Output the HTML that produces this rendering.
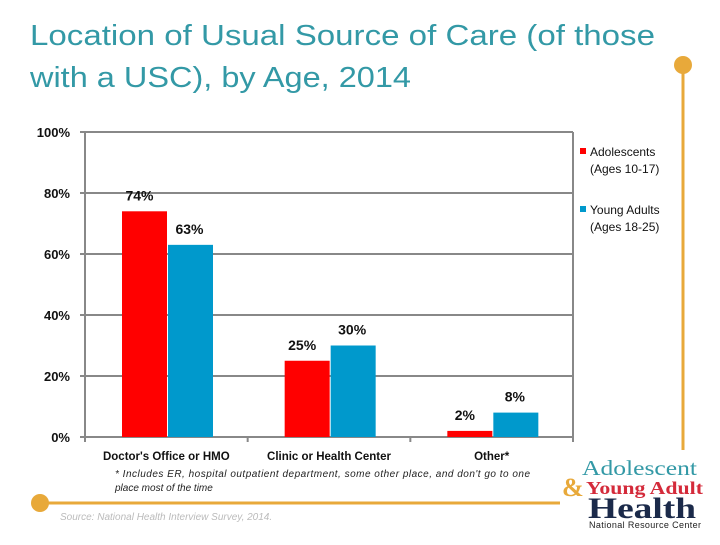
<!DOCTYPE html>
<html><head><meta charset="utf-8"><style>
body{margin:0;width:720px;height:540px;background:#fff;overflow:hidden;font-family:"Liberation Sans",sans-serif;}
</style></head><body>
<svg width="720" height="540" xmlns="http://www.w3.org/2000/svg">
<text x="30" y="45" font-size="29" fill="#3399a6" textLength="625" lengthAdjust="spacingAndGlyphs">Location of Usual Source of Care (of those</text>
<text x="30" y="87" font-size="29" fill="#3399a6" textLength="381" lengthAdjust="spacingAndGlyphs">with a USC), by Age, 2014</text>
<line x1="683" y1="65" x2="683" y2="450" stroke="#e8a93a" stroke-width="3"/>
<circle cx="683" cy="65" r="9" fill="#e8a93a"/>
<line x1="40" y1="503" x2="560" y2="503" stroke="#e8a93a" stroke-width="3"/>
<circle cx="40" cy="503" r="9" fill="#e8a93a"/>
<g id="plot"></g>
<text x="115" y="477" font-size="10" font-style="italic" fill="#222" textLength="415">* Includes ER,  hospital outpatient department, some other place, and don't go to one</text>
<text x="115" y="491" font-size="10" font-style="italic" fill="#222">place  most of the time</text>
<text x="60" y="520" font-size="10" font-style="italic" fill="#bbb">Source: National Health Interview Survey, 2014.</text>
<g>
<text x="582" y="475" font-size="21" fill="#3399a6" font-family="Liberation Serif,serif" textLength="115" lengthAdjust="spacingAndGlyphs">Adolescent</text>
<text x="562" y="496" font-size="26" fill="#e8a93a" font-family="Liberation Serif,serif" font-weight="bold">&amp;</text>
<text x="586" y="494" font-size="18" fill="#d42a3a" font-family="Liberation Serif,serif" font-weight="bold" textLength="117" lengthAdjust="spacingAndGlyphs">Young Adult</text>
<text x="588" y="518" font-size="30" fill="#1b2a4a" font-family="Liberation Serif,serif" font-weight="bold" textLength="108" lengthAdjust="spacingAndGlyphs">Health</text>
<text x="589" y="528" font-size="9" fill="#222" textLength="112">National Resource Center</text>
</g>
</svg>
<script>
const categories=["Doctor's Office or HMO","Clinic or Health Center","Other*"];
const adolescents=[74,25,2];
const youngAdults=[63,30,8];
const yTicks=[0,20,40,60,80,100];
const NS="http://www.w3.org/2000/svg";
const g=document.getElementById('plot');
const X0=85,X1=573,Y0=437,Y1=132;
const y=v=>Y0-(v/100)*(Y0-Y1);
const gw=(X1-X0)/categories.length;
function mk(t,a,txt){const e=document.createElementNS(NS,t);for(const k in a)e.setAttribute(k,a[k]);if(txt!==undefined)e.textContent=txt;g.appendChild(e);return e;}
yTicks.forEach(v=>{
 const l=mk('line',{x1:X0-5,x2:X1,y1:y(v),y2:y(v),stroke:'#888','stroke-width':2});
 
 
 const t=mk('text',{x:70,y:y(v)+5,'font-size':13,'font-weight':'bold','text-anchor':'end',fill:'#111'},v+'%');
 
 
});
const ax=mk('line',{x1:X0,x2:X0,y1:Y1,y2:Y0+5,stroke:'#888','stroke-width':2});


const rx=mk('line',{x1:X1,x2:X1,y1:Y1,y2:Y0+5,stroke:'#888','stroke-width':2});


for(let i=1;i<categories.length;i++){const tk=mk('line',{x1:X0+gw*i,x2:X0+gw*i,y1:Y0,y2:Y0+5,stroke:'#888','stroke-width':2});
 
 }
const bw=45;
categories.forEach((c,i)=>{
 const gx=X0+gw*i+37;
 const r=mk('rect',{x:gx,y:y(adolescents[i]),width:bw,height:Y0-y(adolescents[i]),fill:'#ff0000'});
 
 
 const b=mk('rect',{x:gx+bw+1,y:y(youngAdults[i]),width:bw,height:Y0-y(youngAdults[i]),fill:'#0099cc'});
 
 
 const la=mk('text',{x:gx+bw/2-5,y:y(adolescents[i])-11,'font-size':14,'font-weight':'bold','text-anchor':'middle',fill:'#111'},adolescents[i]+'%');
 
 
 const lb=mk('text',{x:gx+bw*1.5,y:y(youngAdults[i])-11,'font-size':14,'font-weight':'bold','text-anchor':'middle',fill:'#111'},youngAdults[i]+'%');
 
 
 const ct=mk('text',{x:X0+gw*(i+0.5),y:460,'font-size':11.5,'font-weight':'bold','text-anchor':'middle',fill:'#111'},c);
 
 
});
[["#ff0000","Adolescents","(Ages 10-17)",152],["#0099cc","Young Adults","(Ages 18-25)",210]].forEach((L,i)=>{
 const s=mk('rect',{x:580,y:L[3]-4,width:6,height:6,fill:L[0]});
 
 
 const t1=mk('text',{x:590,y:L[3]+4,'font-size':12,fill:'#111'},L[1]);
 
 
 const t2=mk('text',{x:590,y:L[3]+21,'font-size':12,fill:'#111'},L[2]);
 
 
});
</script>
</body></html>
